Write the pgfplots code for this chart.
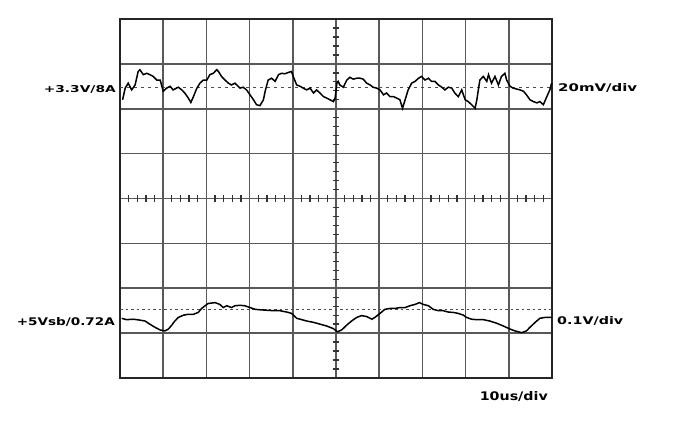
\documentclass[border=0pt]{standalone}
\usepackage{pgfplots}
\pgfplotsset{compat=1.18}
\usepackage{graphicx}
\usepackage{fontspec}
\setmainfont{DejaVu Sans}
\begin{document}
\begin{tikzpicture}[x=1pt,y=1pt]
\path[use as bounding box, fill=white] (0,0) rectangle (673,437);
\begin{axis}[
  at={(120pt,59pt)}, anchor=south west,
  width=432pt, height=359pt, scale only axis,
  xmin=0, xmax=10, ymin=-4, ymax=4,
  xtick={0,...,10}, ytick={-4,...,4},
  xticklabels={}, yticklabels={},
  major tick length=0pt,
  grid=major,
  grid style={black!65, line width=1.6pt},
  axis line style={black!85, line width=1.8pt},
  clip=false,
]
% centre graticule sub-division ticks
\pgfplotsinvokeforeach{0.2,0.4,0.6,0.8,1.2,1.4,1.6,1.8,2.2,2.4,2.6,2.8,3.2,3.4,3.6,3.8,4.2,4.4,4.6,4.8,5.2,5.4,5.6,5.8,6.2,6.4,6.6,6.8,7.2,7.4,7.6,7.8,8.2,8.4,8.6,8.8,9.2,9.4,9.6,9.8}{
  \draw[black!80, line width=1.3pt] (axis cs:#1,-0.08) -- (axis cs:#1,0.08);
}
\pgfplotsinvokeforeach{-3.8,-3.6,-3.4,-3.2,-2.8,-2.6,-2.4,-2.2,-1.8,-1.6,-1.4,-1.2,-0.8,-0.6,-0.4,-0.2,0.2,0.4,0.6,0.8,1.2,1.4,1.6,1.8,2.2,2.4,2.6,2.8,3.2,3.4,3.6,3.8}{
  \draw[black!80, line width=1.3pt] (axis cs:4.92,#1) -- (axis cs:5.08,#1);
}
% reference levels
\addplot[black!70, line width=1.2pt, dash pattern=on 3pt off 4pt] coordinates {(0,2.48) (10,2.48)};
\addplot[black!70, line width=1.2pt, dash pattern=on 2.5pt off 3pt] coordinates {(0,-2.48) (10,-2.48)};
% +3.3V/8A trace (20 mV/div)
\addplot[black, line width=1.5pt] coordinates {
(0.06,2.20) (0.12,2.46) (0.19,2.57) (0.27,2.42) (0.35,2.53) (0.42,2.83) (0.46,2.87) (0.54,2.76) (0.62,2.79) (0.69,2.76)
(0.77,2.72) (0.85,2.64) (0.93,2.64) (1.00,2.39) (1.08,2.46) (1.16,2.50) (1.23,2.42) (1.35,2.48) (1.43,2.42) (1.50,2.35)
(1.58,2.24) (1.64,2.14) (1.70,2.27) (1.77,2.44) (1.85,2.57) (1.93,2.64) (2.01,2.64) (2.08,2.76) (2.16,2.79) (2.24,2.87)
(2.28,2.83) (2.35,2.72) (2.43,2.64) (2.51,2.57) (2.58,2.53) (2.66,2.57) (2.78,2.46) (2.85,2.48) (2.93,2.42) (3.01,2.31)
(3.09,2.20) (3.16,2.09) (3.24,2.07) (3.32,2.20) (3.36,2.39) (3.43,2.64) (3.51,2.68) (3.59,2.61) (3.67,2.76) (3.74,2.79)
(3.82,2.78) (3.90,2.81) (3.97,2.83) (4.01,2.72) (4.09,2.53) (4.17,2.50) (4.24,2.46) (4.32,2.42) (4.40,2.46) (4.48,2.35)
(4.55,2.42) (4.63,2.35) (4.71,2.27) (4.78,2.24) (4.86,2.20) (4.94,2.16) (4.98,2.24) (5.02,2.57) (5.05,2.61) (5.09,2.53)
(5.17,2.48) (5.25,2.64) (5.32,2.70) (5.40,2.66) (5.48,2.68) (5.56,2.68) (5.63,2.66) (5.71,2.57) (5.79,2.53) (5.86,2.48)
(5.94,2.46) (6.02,2.42) (6.10,2.31) (6.17,2.35) (6.25,2.27) (6.33,2.27) (6.40,2.24) (6.48,2.20) (6.54,2.01) (6.60,2.20)
(6.67,2.42) (6.75,2.57) (6.83,2.61) (6.91,2.68) (6.98,2.72) (7.06,2.64) (7.14,2.68) (7.21,2.61) (7.29,2.61) (7.37,2.53)
(7.45,2.48) (7.52,2.42) (7.60,2.48) (7.68,2.46) (7.75,2.35) (7.83,2.27) (7.91,2.42) (7.99,2.20) (8.06,2.16) (8.14,2.09)
(8.22,2.01) (8.26,2.20) (8.33,2.64) (8.41,2.72) (8.49,2.61) (8.53,2.76) (8.60,2.57) (8.68,2.72) (8.76,2.53) (8.83,2.72)
(8.91,2.79) (8.95,2.64) (9.03,2.50) (9.10,2.46) (9.18,2.44) (9.26,2.42) (9.34,2.39) (9.41,2.31) (9.49,2.20) (9.57,2.16)
(9.65,2.13) (9.72,2.16) (9.80,2.09) (9.88,2.27) (9.95,2.42) (9.99,2.57)
};
% +5Vsb/0.72A trace (0.1 V/div)
\addplot[black, line width=1.5pt] coordinates {
(0.04,-2.67) (0.15,-2.70) (0.31,-2.69) (0.46,-2.71) (0.58,-2.73) (0.69,-2.80) (0.81,-2.87) (0.93,-2.93) (1.04,-2.95) (1.12,-2.91)
(1.20,-2.82) (1.27,-2.73) (1.35,-2.65) (1.47,-2.60) (1.58,-2.58) (1.70,-2.58) (1.81,-2.54) (1.89,-2.45) (1.97,-2.39) (2.04,-2.34)
(2.20,-2.32) (2.31,-2.36) (2.39,-2.43) (2.47,-2.39) (2.58,-2.43) (2.66,-2.39) (2.78,-2.38) (2.89,-2.39) (3.01,-2.43) (3.13,-2.47)
(3.24,-2.48) (3.40,-2.49) (3.55,-2.50) (3.70,-2.50) (3.86,-2.53) (3.97,-2.56) (4.09,-2.67) (4.21,-2.70) (4.32,-2.73) (4.48,-2.76)
(4.63,-2.80) (4.78,-2.84) (4.94,-2.90) (5.03,-2.97) (5.13,-2.93) (5.25,-2.82) (5.36,-2.73) (5.48,-2.65) (5.59,-2.61) (5.71,-2.63)
(5.83,-2.69) (5.90,-2.65) (6.02,-2.56) (6.13,-2.47) (6.25,-2.45) (6.37,-2.45) (6.48,-2.43) (6.60,-2.43) (6.71,-2.39) (6.83,-2.36)
(6.93,-2.32) (7.02,-2.36) (7.14,-2.39) (7.25,-2.47) (7.37,-2.50) (7.48,-2.50) (7.60,-2.53) (7.72,-2.54) (7.83,-2.56) (7.95,-2.60)
(8.02,-2.65) (8.14,-2.69) (8.26,-2.70) (8.41,-2.70) (8.56,-2.73) (8.72,-2.78) (8.87,-2.84) (9.03,-2.91) (9.14,-2.95) (9.30,-2.99)
(9.41,-2.95) (9.49,-2.87) (9.61,-2.76) (9.72,-2.67) (9.84,-2.65) (9.99,-2.65)
};
\end{axis}
\node[anchor=east, inner sep=0pt] at (116,348) {\resizebox{72pt}{7pt}{\bfseries +3.3V/8A}};
\node[anchor=west, inner sep=0pt] at (558,349) {\resizebox{79pt}{8pt}{\bfseries 20mV/div}};
\node[anchor=east, inner sep=0pt] at (115,115) {\resizebox{98pt}{8pt}{\bfseries +5Vsb/0.72A}};
\node[anchor=west, inner sep=0pt] at (557,116) {\resizebox{66pt}{8pt}{\bfseries 0.1V/div}};
\node[anchor=east, inner sep=0pt] at (548,40) {\resizebox{68pt}{9pt}{\bfseries 10us/div}};
\end{tikzpicture}
\end{document}
